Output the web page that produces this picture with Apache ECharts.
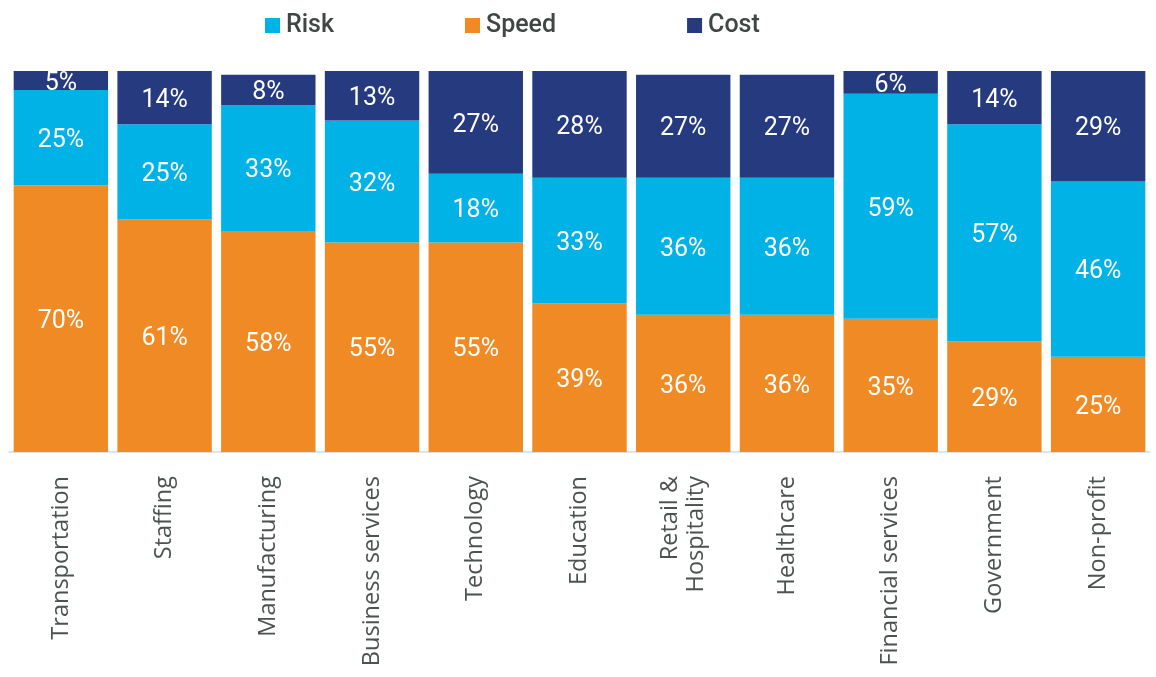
<!DOCTYPE html>
<html>
<head>
<meta charset="utf-8">
<script src="https://cdn.jsdelivr.net/npm/echarts@6/dist/echarts.min.js"></script>
<style>
  html, body { margin: 0; padding: 0; background: #fff; }
  #chart { width: 1156px; height: 677px; }
</style>
</head>
<body>
<div id="chart"></div>
<script>
// Share of each priority by industry (percent)
const categories = ['Transportation', 'Staffing', 'Manufacturing', 'Business services', 'Technology',
  'Education', 'Retail &\nHospitality', 'Healthcare', 'Financial services', 'Government', 'Non-profit'];
const speed = [70, 61, 58, 55, 55, 39, 36, 36, 35, 29, 25];
const risk  = [25, 25, 33, 32, 18, 33, 36, 36, 59, 57, 46];
const cost  = [5, 14, 8, 13, 27, 28, 27, 27, 6, 14, 29];

const colors = { Risk: '#00b2e6', Speed: '#f08a24', Cost: '#263a80' };

const labelStyle = {
  show: true,
  position: 'inside',
  offset: [0, 3],
  color: '#ffffff',
  fontFamily: 'Roboto',
  fontSize: 25,
  formatter: p => p.value + '%'
};

function barSeries(name, data) {
  return {
    name: name,
    type: 'bar',
    stack: 'total',
    data: data,
    barCategoryGap: '9%',
    itemStyle: { color: colors[name] },
    label: labelStyle,
    emphasis: { disabled: true }
  };
}

const chart = echarts.init(document.getElementById('chart'), null, { renderer: 'canvas' });
chart.setOption({
  animation: false,
  legend: {
    data: ['Risk', 'Speed', 'Cost'],
    left: 260,
    top: 8,
    itemWidth: 15,
    itemHeight: 15,
    itemGap: 131,
    icon: 'rect',
    textStyle: { fontFamily: 'Roboto', fontSize: 25, fontWeight: 500, color: '#3f4744', padding: [0, 0, 0, 1] }
  },
  grid: { left: 9, right: 6, top: 71, bottom: 225, containLabel: false },
  xAxis: {
    type: 'category',
    data: categories,
    axisLine: { lineStyle: { color: '#d9d9d9', width: 1.5 } },
    axisTick: { show: false },
    axisLabel: {
      rotate: 90,
      interval: 0,
      margin: 24,
      fontFamily: 'Open Sans',
      fontSize: 23.5,
      lineHeight: 26,
      color: '#4b5350'
    }
  },
  yAxis: { type: 'value', min: 0, max: 100, show: false },
  series: [
    barSeries('Speed', speed),
    barSeries('Risk', risk),
    barSeries('Cost', cost)
  ]
});
</script>
</body>
</html>
